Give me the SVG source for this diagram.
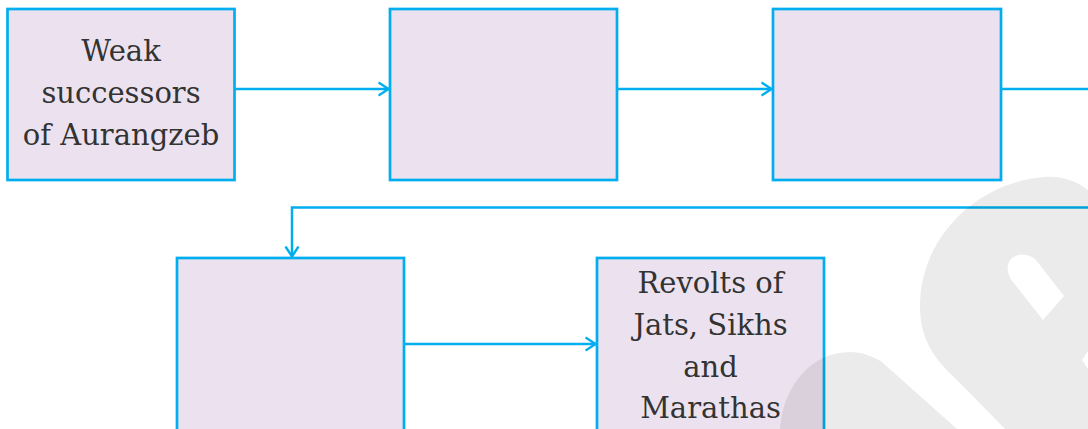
<svg xmlns="http://www.w3.org/2000/svg" width="1088" height="429" viewBox="0 0 1088 429">
  <style>
    .box { fill: #ece2ef; stroke: #00aeef; stroke-width: 2.7; }
    .link { fill: none; stroke: #00aeef; stroke-width: 2.5; }
    .label { font-family: "DejaVu Serif", "Liberation Serif", serif; font-size: 29px; fill: #333333; text-anchor: middle; }
    .mark { fill: #000000; fill-opacity: 0.08; }
  </style>
  <defs>
    <marker id="chev" viewBox="0 0 12 16" refX="11.5" refY="8" markerWidth="12" markerHeight="16" markerUnits="userSpaceOnUse" orient="auto">
      <path d="M1,1.5 L11,8 L1,14.5" fill="none" stroke="#00aeef" stroke-width="2.4"/>
    </marker>
  </defs>

  <rect width="1088" height="429" fill="#ffffff"/>

  <g id="node-weak-successors">
    <rect class="box" x="7.5" y="9" width="227" height="171"/>
    <text class="label" x="121" y="61">Weak</text>
    <text class="label" x="121" y="103">successors</text>
    <text class="label" x="121" y="145">of Aurangzeb</text>
  </g>
  <g id="node-blank-1">
    <rect class="box" x="390" y="9" width="227" height="171"/>
  </g>
  <g id="node-blank-2">
    <rect class="box" x="773" y="9" width="228" height="171"/>
  </g>
  <g id="node-blank-3">
    <rect class="box" x="177" y="258" width="227" height="200"/>
  </g>
  <g id="node-revolts">
    <rect class="box" x="597" y="258" width="227" height="200"/>
    <text class="label" x="710.5" y="293">Revolts of</text>
    <text class="label" x="710.5" y="335">Jats, Sikhs</text>
    <text class="label" x="710.5" y="377">and</text>
    <text class="label" x="710.5" y="418">Marathas</text>
  </g>

  <g id="connectors">
    <path class="link" d="M235 89 H389" marker-end="url(#chev)"/>
    <path class="link" d="M617 89 H772" marker-end="url(#chev)"/>
    <path class="link" d="M1001 89 H1088"/>
    <path class="link" d="M1088 207.5 H292 V257" marker-end="url(#chev)"/>
    <path class="link" d="M404 344 H596" marker-end="url(#chev)"/>
  </g>

  <!-- faint background emblem in the lower right -->
  <g id="emblem">
    <path class="mark" d="M780 429 C783 385 812 352 850 352 C862 352 872 356 882 362 L957 429 Z"/>
    <path class="mark" d="M1088 190 C1075 180 1060 176 1045 177 C975 182 918 240 920 310 C921 340 935 360 955 378 L1005 429 L1088 429 Z"/>
    <path d="M1012 258 C1020 252 1030 254 1036 260 L1064 296 L1043 320 L1013 282 C1006 274 1006 263 1012 258 Z" fill="#ffffff"/>
    <path d="M1088 351 L1082 360 L1088 369 Z" fill="#ffffff"/>
  </g>
</svg>
